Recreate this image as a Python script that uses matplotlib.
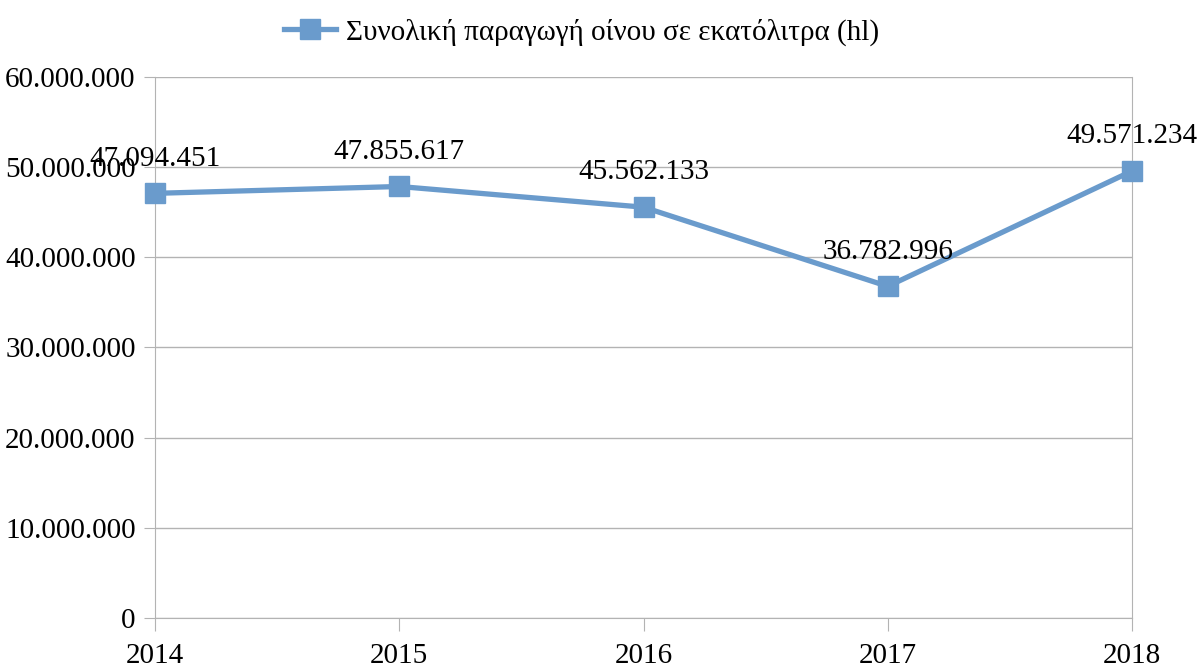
import matplotlib
matplotlib.use("Agg")
import matplotlib.pyplot as plt
import matplotlib.ticker as mt

plt.rcParams['font.family'] = ['Liberation Serif', 'DejaVu Serif']
plt.rcParams['font.size'] = 21

years = ['2014', '2015', '2016', '2017', '2018']
production = [47094451, 47855617, 45562133, 36782996, 49571234]
series_name = 'Συνολική παραγωγή οίνου σε εκατόλιτρα (hl)'
line_color = '#6a9bcc'
grid_color = '#b3b3b3'


def dotted(v, pos=None):
    return f"{int(round(v)):,}".replace(",", ".")


fig = plt.figure(figsize=(11.99, 6.66), dpi=100)
ax = fig.add_axes([0.1293, 0.0721, 0.8148, 0.8123])

xs = range(len(years))
ax.plot(xs, production, color=line_color, linewidth=3.8, marker='s',
        markersize=15, label=series_name, clip_on=False, zorder=3)

for x, v in zip(xs, production):
    ax.annotate(dotted(v), (x, v), xytext=(0, 25), textcoords='offset points',
                ha='center', va='center', fontsize=21)

ax.set_xlim(0, len(years) - 1)
ax.set_ylim(0, 60000000)
ax.set_xticks(list(xs))
ax.set_xticklabels(years)
ax.yaxis.set_major_locator(mt.MultipleLocator(10000000))
ax.yaxis.set_major_formatter(mt.FuncFormatter(dotted))

ax.grid(axis='y', color=grid_color, linewidth=1)
ax.set_axisbelow(True)
for side in ['left', 'right', 'bottom']:
    ax.spines[side].set_color(grid_color)
ax.spines['top'].set_visible(False)
ax.tick_params(axis='x', length=9, color=grid_color, pad=9)
ax.tick_params(axis='y', length=8, color=grid_color, pad=6)

fig.legend(loc='upper center', bbox_to_anchor=(0.485, 1.012), frameon=False,
           handlelength=1.8, handletextpad=0.35)

fig.savefig('out.png', dpi=100)
